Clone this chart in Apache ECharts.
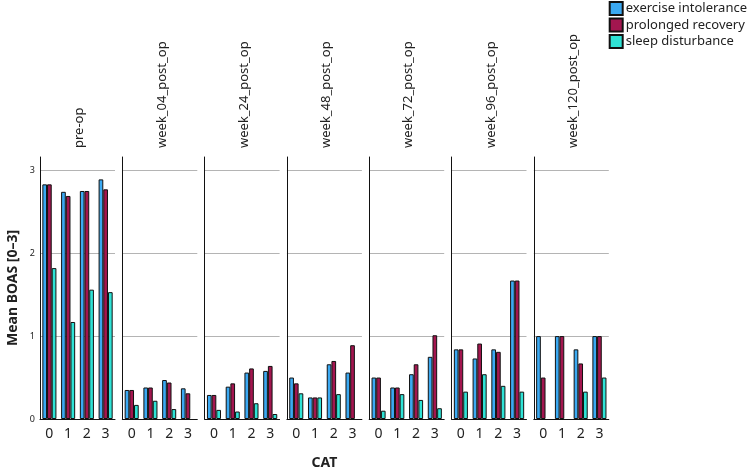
<!DOCTYPE html>
<html>
<head>
<meta charset="UTF-8">
<title>Mean BOAS by CAT</title>
<script src="https://cdn.jsdelivr.net/npm/echarts@6/dist/echarts.min.js"></script>
<style>
    html, body { margin: 0; padding: 0; background: #fff; }
    #main { width: 750px; height: 470px; }
</style>
</head>
<body>
<div id="main"></div>
<script>
    var timepoints = ['pre-op', 'week_04_post_op', 'week_24_post_op', 'week_48_post_op',
        'week_72_post_op', 'week_96_post_op', 'week_120_post_op'];
    var cats = ['0', '1', '2', '3'];
    var yTicks = [0, 1, 2, 3];

    // one row per time point, values for CAT 0..3
    var exerciseIntolerance = [
        [2.83, 2.74, 2.75, 2.89],
        [0.35, 0.38, 0.47, 0.37],
        [0.29, 0.39, 0.56, 0.58],
        [0.50, 0.26, 0.66, 0.56],
        [0.50, 0.38, 0.54, 0.75],
        [0.84, 0.73, 0.84, 1.67],
        [1.00, 1.00, 0.84, 1.00]
    ];
    var prolongedRecovery = [
        [2.83, 2.69, 2.75, 2.77],
        [0.35, 0.38, 0.44, 0.31],
        [0.29, 0.43, 0.61, 0.64],
        [0.43, 0.26, 0.70, 0.89],
        [0.50, 0.38, 0.66, 1.01],
        [0.84, 0.91, 0.81, 1.67],
        [0.50, 1.00, 0.67, 1.00]
    ];
    var sleepDisturbance = [
        [1.82, 1.17, 1.56, 1.53],
        [0.17, 0.22, 0.12, null],
        [0.11, 0.09, 0.19, 0.06],
        [0.31, 0.26, 0.30, null],
        [0.10, 0.30, 0.23, 0.13],
        [0.33, 0.54, 0.40, 0.33],
        [null, null, 0.33, 0.50]
    ];

    var seriesDefs = [
        {name: 'exercise intolerance', color: '#3ba9f2', data: exerciseIntolerance},
        {name: 'prolonged recovery', color: '#a3164f', data: prolongedRecovery},
        {name: 'sleep disturbance', color: '#2fe3d6', data: sleepDisturbance}
    ];

    var fontFam = '"Noto Sans", sans-serif';
    var panelLeft = 40, panelStep = 82.3, panelWidth = 75, panelTop = 157, panelHeight = 262;

    var grids = [], xAxes = [], yAxes = [], series = [], graphics = [];

    timepoints.forEach(function (tp, i) {
        var left = panelLeft + i * panelStep;
        grids.push({left: left, top: panelTop, width: panelWidth, height: panelHeight, outerBoundsMode: 'none'});
        xAxes.push({
            type: 'category', gridIndex: i, data: cats,
            axisLine: {show: true, lineStyle: {color: '#111', width: 1}},
            axisTick: {show: false},
            axisLabel: {fontSize: 14, color: '#222', margin: 8, fontFamily: fontFam},
            name: i === 3 ? 'CAT' : '',
            nameLocation: 'middle', nameGap: 37,
            nameTextStyle: {fontSize: 14, fontWeight: 'bold', color: '#222', fontFamily: fontFam}
        });
        yAxes.push({
            type: 'value', gridIndex: i, min: 0, max: 3.16, interval: 1,
            axisLine: {show: true, lineStyle: {color: '#111', width: 1}},
            axisTick: {show: false},
            axisLabel: {
                show: i === 0, fontSize: 9, color: '#222', margin: 5, fontFamily: fontFam,
                formatter: function (v) { return yTicks.indexOf(v) >= 0 ? String(v) : ''; }
            },
            splitLine: {show: true, lineStyle: {color: ['transparent', '#b4b4b4', '#b4b4b4', '#b4b4b4', 'transparent'], width: 1}},
            name: i === 0 ? 'Mean BOAS [0\u20133]' : '',
            nameLocation: 'middle', nameGap: 20,
            nameTextStyle: {fontSize: 14, fontWeight: 'bold', color: '#222', fontFamily: fontFam}
        });
        seriesDefs.forEach(function (s) {
            series.push({
                name: s.name, type: 'bar', xAxisIndex: i, yAxisIndex: i,
                data: s.data[i],
                barGap: '0%', barCategoryGap: '25%',
                itemStyle: {color: s.color, borderColor: '#111', borderWidth: 1},
                emphasis: {disabled: true}
            });
        });
        // panel header, rotated
        graphics.push({
            type: 'text',
            x: left + panelWidth / 2 + 2, y: 148,
            rotation: Math.PI / 2,
            style: {
                text: tp, fontSize: 13, fontFamily: fontFam, fill: '#222',
                textAlign: 'left', textVerticalAlign: 'middle'
            }
        });
    });

    var myChart = echarts.init(document.getElementById('main'));
    myChart.setOption({
        animation: false,
        grid: grids,
        xAxis: xAxes,
        yAxis: yAxes,
        series: series,
        graphic: graphics,
        legend: {
            data: seriesDefs.map(function (s) { return s.name; }),
            orient: 'vertical', right: 3, top: 1, padding: 0,
            icon: 'rect', itemWidth: 13, itemHeight: 13, itemGap: 1.5,
            textStyle: {fontSize: 13, color: '#222', fontFamily: fontFam, padding: [0, 0, 0, -2]}
        }
    });
</script>
</body>
</html>
